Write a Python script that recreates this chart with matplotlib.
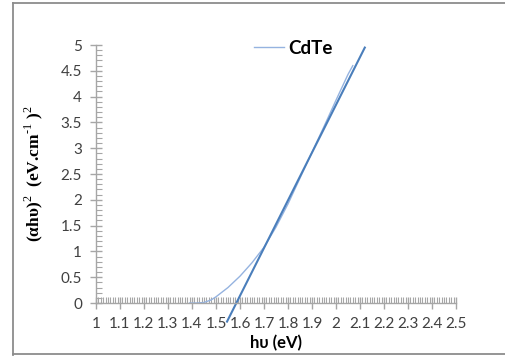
import numpy as np
import matplotlib
matplotlib.use("Agg")
import matplotlib.pyplot as plt
from matplotlib.ticker import MultipleLocator
from matplotlib.lines import Line2D

plt.rcParams["mathtext.fontset"] = "custom"
plt.rcParams["mathtext.rm"] = "Liberation Serif"
plt.rcParams["mathtext.bf"] = "Liberation Serif:bold"

# measured (alpha h nu)^2 vs photon energy
hv = [1.39, 1.42, 1.45, 1.48, 1.50, 1.55, 1.60, 1.65, 1.70, 1.75, 1.80,
      1.85, 1.90, 1.95, 2.00, 2.05, 2.07]
ahv2 = [0.0, 0.0, 0.01, 0.06, 0.12, 0.30, 0.52, 0.78, 1.08, 1.47, 1.92,
        2.42, 2.92, 3.42, 3.93, 4.43, 4.60]

# linear extrapolation (Tauc fit)
fit_x = [1.546, 2.12]
fit_y = [-0.36, 4.95]

x_ticks = [1, 1.1, 1.2, 1.3, 1.4, 1.5, 1.6, 1.7, 1.8, 1.9, 2, 2.1, 2.2, 2.3, 2.4, 2.5]
x_labels = ["1", "1.1", "1.2", "1.3", "1.4", "1.5", "1.6", "1.7", "1.8", "1.9",
            "2", "2.1", "2.2", "2.3", "2.4", "2.5"]
y_ticks = [0, 0.5, 1, 1.5, 2, 2.5, 3, 3.5, 4, 4.5, 5]
y_labels = ["0", "0.5", "1", "1.5", "2", "2.5", "3", "3.5", "4", "4.5", "5"]

fig = plt.figure(figsize=(5.05, 3.58), dpi=100)
ax = fig.add_axes([0.190, 0.1536, 0.713, 0.7207])

ax.plot(hv, ahv2, color="#95b3e0", lw=1.0, label="CdTe", clip_on=False)
ax.plot(fit_x, fit_y, color="#4a7ebb", lw=1.5, clip_on=False)

ax.set_xlim(1, 2.5)
ax.set_ylim(0, 5)

grey = "#a6a6a6"
for s in ["top", "right"]:
    ax.spines[s].set_visible(False)
for s in ["left", "bottom"]:
    ax.spines[s].set_color(grey)
    ax.spines[s].set_linewidth(1.0)

ax.set_xticks(x_ticks)
ax.set_xticklabels(x_labels)
ax.set_yticks(y_ticks)
ax.set_yticklabels(y_labels)
ax.xaxis.set_minor_locator(MultipleLocator(0.01))
ax.yaxis.set_minor_locator(MultipleLocator(0.1))
ax.tick_params(which="major", direction="inout", length=8, width=1, color=grey,
               labelsize=11, labelcolor="#404040", pad=6)
ax.tick_params(which="minor", direction="in", length=4, width=0.8, color=grey)
for lab in ax.get_xticklabels() + ax.get_yticklabels():
    lab.set_family("Lato")

ax.set_xlabel("h\u03c5 (eV)", fontsize=12, fontweight="bold", family="Lato", labelpad=3)
ax.set_ylabel("(\u03b1h\u03c5)$^{2}$  (eV.cm$^{\u2010 1}$ )$^{2}$", fontsize=12.5,
              fontweight="bold", family="Liberation Serif", labelpad=11)

leg = ax.legend(loc="upper left", bbox_to_anchor=(0.392, 1.085), frameon=False,
                handlelength=1.6, handletextpad=0.25,
                prop={"family": "Lato", "weight": "bold", "size": 13.5})

# outer chart border
fig.add_artist(Line2D([13 / 505, 13 / 505], [3 / 358, 355 / 358], color="#8c8c8c", lw=1.3))
fig.add_artist(Line2D([13 / 505, 1.0], [355 / 358, 355 / 358], color="#8c8c8c", lw=1.3))
fig.add_artist(Line2D([13 / 505, 1.0], [4 / 358, 4 / 358], color="#8c8c8c", lw=1.3))

fig.savefig("out.png", dpi=100)
